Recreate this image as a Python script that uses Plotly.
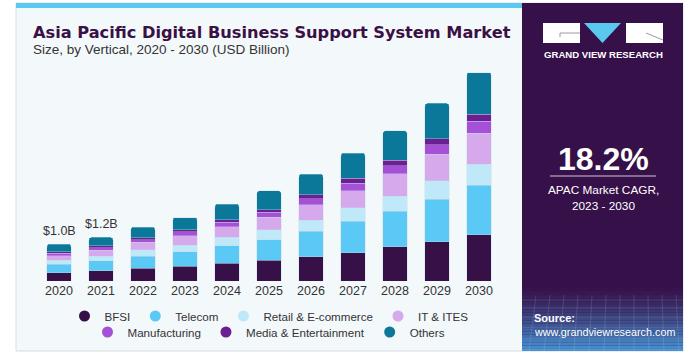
import plotly.graph_objects as go

years = ["2020", "2021", "2022", "2023", "2024", "2025", "2026", "2027", "2028", "2029", "2030"]
bfsi = [0.22, 0.28, 0.35, 0.40, 0.48, 0.57, 0.66, 0.77, 0.93, 1.07, 1.26]
telecom = [0.23, 0.27, 0.33, 0.40, 0.48, 0.55, 0.69, 0.86, 0.97, 1.16, 1.35]
retail = [0.11, 0.13, 0.17, 0.18, 0.23, 0.28, 0.31, 0.36, 0.41, 0.50, 0.57]
it_ites = [0.13, 0.16, 0.20, 0.25, 0.29, 0.34, 0.42, 0.47, 0.61, 0.72, 0.85]
manufacturing = [0.07, 0.07, 0.08, 0.11, 0.12, 0.13, 0.16, 0.21, 0.22, 0.26, 0.32]
media = [0.04, 0.05, 0.05, 0.06, 0.07, 0.07, 0.11, 0.13, 0.15, 0.17, 0.20]
others = [0.20, 0.23, 0.29, 0.33, 0.42, 0.52, 0.56, 0.68, 0.80, 0.96, 1.13]
label_years = ["2020", "2021"]
label_texts = ["$1.0B", "$1.2B"]

series = [
    ("BFSI", bfsi, "#371048", "legend"),
    ("Telecom", telecom, "#5bc9f5", "legend"),
    ("Retail & E-commerce", retail, "#bfe9f9", "legend"),
    ("IT & ITES", it_ites, "#d5a9ec", "legend"),
    ("Manufacturing", manufacturing, "#a550d6", "legend2"),
    ("Media & Entertainment", media, "#6c1f93", "legend2"),
    ("Others", others, "#0b7799", "legend2"),
]

W, H = 687, 355
L, R, T, B = 38, 500, 60, 281
YMAX = (B - T) / 36.7


def px(x):
    return (x - L) / (R - L)


def py(y):
    return (B - y) / (B - T)


FONT = "Liberation Sans, Arial, sans-serif"
TFONT = "DejaVu Sans, Liberation Sans, sans-serif"
fig = go.Figure()
for name, vals, col, lg in series:
    fig.add_trace(go.Bar(
        x=years, y=vals, name=name, showlegend=False, legendgroup=name,
        marker=dict(color=col, line=dict(color="rgba(200,215,230,0.6)", width=0.6)),
        hoverinfo="skip",
    ))
for name, vals, col, lg in series:
    fig.add_trace(go.Scatter(
        x=[None], y=[None], mode="markers", name=name, legend=lg, legendgroup=name,
        marker=dict(color=col, size=11, symbol="circle"), hoverinfo="skip",
    ))

totals = [sum(s[1][i] for s in series) for i in range(len(years))]
for yr, txt in zip(label_years, label_texts):
    i = years.index(yr)
    fig.add_annotation(x=i, y=totals[i], text=txt, showarrow=False, yshift=13,
                       font=dict(size=12.5, color="#333333", family=FONT))

shapes = []
shapes.append(dict(type="rect", xref="paper", yref="paper", x0=px(16), x1=px(683), y0=py(351), y1=py(3),
                   fillcolor="#f3f8fb", line=dict(color="#d8dde2", width=1), layer="below"))
shapes.append(dict(type="rect", xref="paper", yref="paper", x0=px(16), x1=px(522), y0=py(8), y1=py(3),
                   fillcolor="#5bc8f0", line=dict(width=0), layer="below"))
shapes.append(dict(type="rect", xref="paper", yref="paper", x0=px(522), x1=px(683), y0=py(351), y1=py(3),
                   fillcolor="#361049", line=dict(width=0), layer="below"))
c0 = (54, 16, 73)
c1 = (70, 150, 215)
n = 24
g0, g1 = 285, 351
for k in range(n):
    t = (k + 0.5) / n
    t2 = t ** 1.3
    c = tuple(int(c0[j] + (c1[j] - c0[j]) * t2) for j in range(3))
    ya = g0 + (g1 - g0) * k / n
    yb = g0 + (g1 - g0) * (k + 1) / n
    shapes.append(dict(type="rect", xref="paper", yref="paper", x0=px(522), x1=px(683), y0=py(yb), y1=py(ya),
                       fillcolor="rgb(%d,%d,%d)" % c, line=dict(width=0), layer="below"))
for k in range(12):
    xx = 522 + k * 14
    shapes.append(dict(type="line", xref="paper", yref="paper", x0=px(xx), x1=px(xx - 8 + k), y0=py(295), y1=py(351),
                       line=dict(color="rgba(255,255,255,0.12)", width=1), layer="below"))
for yy in [300, 308, 317, 327, 338, 349]:
    shapes.append(dict(type="line", xref="paper", yref="paper", x0=px(522), x1=px(683), y0=py(yy), y1=py(yy),
                       line=dict(color="rgba(255,255,255,0.12)", width=1), layer="below"))
shapes.append(dict(type="rect", xref="paper", yref="paper", x0=px(543), x1=px(580), y0=py(43), y1=py(23),
                   fillcolor="white", line=dict(width=0)))
shapes.append(dict(type="path", xref="paper", yref="paper",
                   path="M %f,%f L %f,%f L %f,%f Z" % (px(584), py(23), px(621), py(23), px(602.5), py(43)),
                   fillcolor="#5bc8f0", line=dict(width=0)))
shapes.append(dict(type="rect", xref="paper", yref="paper", x0=px(626), x1=px(663), y0=py(43), y1=py(23),
                   fillcolor="white", line=dict(width=0)))
shapes.append(dict(type="line", xref="paper", yref="paper", x0=px(560), x1=px(580), y0=py(33), y1=py(33),
                   line=dict(color="#9a9aa8", width=1)))
shapes.append(dict(type="line", xref="paper", yref="paper", x0=px(560), x1=px(560), y0=py(33), y1=py(37),
                   line=dict(color="#9a9aa8", width=1)))
shapes.append(dict(type="line", xref="paper", yref="paper", x0=px(646), x1=px(663), y0=py(33), y1=py(40),
                   line=dict(color="#9a9aa8", width=1)))
shapes.append(dict(type="line", xref="paper", yref="paper", x0=px(550), x1=px(656), y0=py(176), y1=py(176),
                   line=dict(color="#d0c8d8", width=1)))

fig.update_layout(shapes=shapes)

ann = [
    (31, 32, "<b>Asia Pacific Digital Business Support System Market</b>", 16.2, "#3a1045", "left", TFONT),
    (31, 50, "Size, by Vertical, 2020 - 2030 (USD Billion)", 13.5, "#333333", "left", FONT),
    (603, 54, "<b>GRAND VIEW RESEARCH</b>", 9.6, "white", "center", FONT),
    (603, 159, "<b>18.2%</b>", 32, "white", "center", FONT),
    (603, 190, "APAC Market CAGR,", 11.8, "white", "center", FONT),
    (603, 206, "2023 - 2030", 11.8, "white", "center", FONT),
    (532, 318, "<b>Source:</b>", 11, "white", "left", FONT),
    (532, 332, "www.grandviewresearch.com", 10.8, "white", "left", FONT),
]
for x, y, t, s, c, al, f in ann:
    fig.add_annotation(xref="paper", yref="paper", x=px(x), y=py(y), text=t, showarrow=False,
                       xanchor=al, yanchor="middle", font=dict(size=s, color=c, family=f))

lg_common = dict(orientation="h", x=0.5, xanchor="center", yanchor="middle",
                 font=dict(size=11.6, color="#333333", family=FONT), bgcolor="rgba(0,0,0,0)",
                 itemwidth=30, traceorder="normal", tracegroupgap=0)
fig.update_layout(
    width=W, height=H,
    margin=dict(l=L, r=W - R, t=T, b=H - B, pad=0, autoexpand=False),
    paper_bgcolor="white", plot_bgcolor="rgba(0,0,0,0)",
    barmode="stack", bargap=0.42, barcornerradius=3,
    font=dict(family=FONT, color="#333333"),
    xaxis=dict(type="category", range=[-0.5, len(years) - 0.5], showgrid=False, showline=False, ticks="",
               tickfont=dict(size=12.5, color="#333333"), fixedrange=True),
    yaxis=dict(visible=False, range=[0, YMAX], fixedrange=True),
    legend=dict(y=py(316), **lg_common),
    legend2=dict(y=py(332), **lg_common),
    showlegend=True,
)

fig.write_html("out.html", config={"displayModeBar": False},
               post_script="document.body.style.margin='0';document.body.style.overflow='hidden';")
